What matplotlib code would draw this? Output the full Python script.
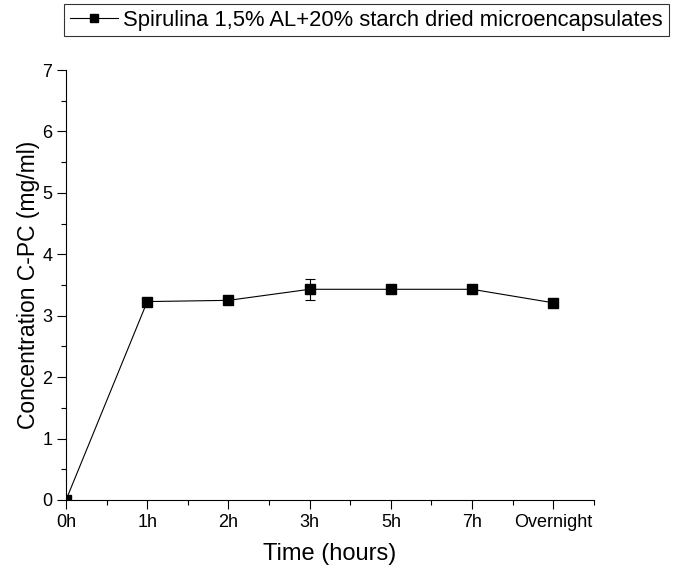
import numpy as np
import matplotlib
matplotlib.use("Agg")
import matplotlib.pyplot as plt
from matplotlib.ticker import MultipleLocator
from matplotlib.lines import Line2D

plt.rcParams['font.family'] = ['Liberation Sans', 'DejaVu Sans']

time_labels = ['0h', '1h', '2h', '3h', '5h', '7h', 'Overnight']
conc = [0.0, 3.23, 3.25, 3.43, 3.43, 3.43, 3.21]
conc_err = [0.0, 0.0, 0.0, 0.17, 0.0, 0.0, 0.0]
series_name = 'Spirulina 1,5% AL+20% starch dried microencapsulates'

fig = plt.figure(figsize=(6.74, 5.74), dpi=100)
ax = fig.add_axes([0.098, 0.129, 0.783, 0.749])

x = np.arange(len(time_labels))
ax.errorbar(x, conc, yerr=conc_err, color='black', lw=0.8, marker='s',
            markersize=7, elinewidth=0.8, capsize=3.5, capthick=0.8,
            zorder=3)

ax.set_xlim(0, 6.5)
ax.set_ylim(0, 7)
ax.set_xticks(x)
ax.set_xticklabels(time_labels)
ax.xaxis.set_minor_locator(MultipleLocator(0.5))
ax.yaxis.set_major_locator(MultipleLocator(1))
ax.yaxis.set_minor_locator(MultipleLocator(0.5))
ax.tick_params(which='major', direction='out', length=6.5, width=0.8,
               labelsize=13, pad=3.5)
ax.tick_params(which='minor', direction='out', length=3.6, width=0.8)

for s in ['top', 'right']:
    ax.spines[s].set_visible(False)
for s in ['left', 'bottom']:
    ax.spines[s].set_linewidth(0.8)

ax.set_xlabel('Time (hours)', fontsize=17, labelpad=9)
ax.set_ylabel('Concentration C-PC (mg/ml)', fontsize=16.5, labelpad=1.7)

handle = Line2D([], [], color='black', lw=0.8, marker='s', markersize=6)
leg = fig.legend([handle], [series_name], loc='upper right',
                 bbox_to_anchor=(0.992, 0.993),
                 fontsize=15.8, frameon=True, fancybox=False, edgecolor='black',
                 borderpad=0.25, handlelength=2.2, handletextpad=0.25,
                 borderaxespad=0)
leg.get_frame().set_linewidth(0.8)

fig.savefig('out.png', dpi=100)
